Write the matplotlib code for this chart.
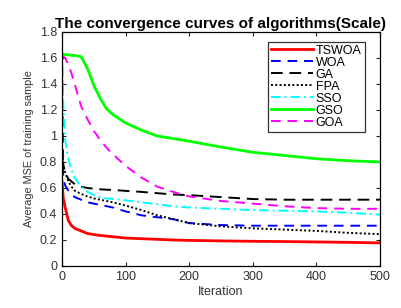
import matplotlib
matplotlib.use('Agg')
import matplotlib.pyplot as plt

plt.rcParams['font.family'] = ['Liberation Sans', 'DejaVu Sans']

# iteration sample points shared by all series
iters = [0, 2, 5, 10, 15, 20, 30, 40, 50, 60, 70, 80, 100, 125, 150, 175, 200,
         250, 300, 350, 400, 450, 500]

tswoa = [0.65, 0.52, 0.45, 0.35, 0.31, 0.29, 0.27, 0.25, 0.242, 0.235, 0.23,
         0.225, 0.215, 0.21, 0.205, 0.2, 0.197, 0.193, 0.19, 0.188, 0.185,
         0.182, 0.178]
woa = [1.66, 0.68, 0.62, 0.58, 0.55, 0.53, 0.51, 0.49, 0.48, 0.47, 0.46,
       0.45, 0.42, 0.39, 0.375, 0.36, 0.33, 0.315, 0.31, 0.31, 0.31, 0.31, 0.31]
ga = [0.83, 0.78, 0.72, 0.67, 0.65, 0.63, 0.61, 0.60, 0.595, 0.59, 0.587,
      0.585, 0.578, 0.57, 0.56, 0.55, 0.545, 0.53, 0.515, 0.51, 0.51, 0.51,
      0.51]
fpa = [0.86, 0.78, 0.72, 0.65, 0.61, 0.58, 0.555, 0.535, 0.52, 0.51, 0.50,
       0.49, 0.465, 0.43, 0.39, 0.36, 0.33, 0.305, 0.29, 0.28, 0.27, 0.255,
       0.245]
sso = [1.58, 1.25, 0.97, 0.82, 0.74, 0.68, 0.61, 0.57, 0.545, 0.53, 0.52,
       0.515, 0.505, 0.49, 0.475, 0.46, 0.45, 0.44, 0.43, 0.425, 0.42, 0.41,
       0.395]
gso = [1.63, 1.63, 1.625, 1.625, 1.62, 1.62, 1.61, 1.52, 1.39, 1.29, 1.21,
       1.165, 1.10, 1.045, 1.0, 0.98, 0.96, 0.915, 0.875, 0.85, 0.825, 0.81,
       0.80]
goa = [1.62, 1.61, 1.60, 1.55, 1.48, 1.40, 1.23, 1.13, 1.04, 0.97, 0.91,
       0.86, 0.77, 0.68, 0.61, 0.57, 0.535, 0.5, 0.48, 0.46, 0.445, 0.44, 0.44]


def main():
    fig = plt.figure(figsize=(4.02, 3.08), dpi=100)
    ax = fig.add_axes([62 / 402, 1 - 266 / 308, 318 / 402, 234 / 308])

    ax.plot(iters, tswoa, color='#ff0000', lw=2.0, label='TSWOA')
    ax.plot(iters, woa, color='#0000ff', lw=1.4, dashes=(5, 3.5), label='WOA')
    ax.plot(iters, ga, color='black', lw=1.4, dashes=(6, 3.5), label='GA')
    ax.plot(iters, fpa, color='black', lw=1.4, dashes=(1, 1.2), label='FPA')
    ax.plot(iters, sso, color='#00ffff', lw=1.4, dashes=(5, 2, 1, 2), label='SSO')
    ax.plot(iters, gso, color='#00ff00', lw=2.0, label='GSO')
    ax.plot(iters, goa, color='#ff00ff', lw=1.4, dashes=(5, 3.5), label='GOA')

    ax.set_xlim(0, 500)
    ax.set_ylim(0, 1.8)
    ax.set_xticks([0, 100, 200, 300, 400, 500])
    ax.set_yticks([0, 0.2, 0.4, 0.6, 0.8, 1, 1.2, 1.4, 1.6, 1.8])
    ax.set_yticklabels(['0', '0.2', '0.4', '0.6', '0.8', '1', '1.2', '1.4', '1.6', '1.8'])
    ax.tick_params(direction='in', top=True, right=True, labelsize=9,
                   length=3, width=0.8, colors='#222222', labelcolor='#333333')
    for s in ax.spines.values():
        s.set_linewidth(0.9)

    ax.set_title('The convergence curves of algorithms(Scale)', fontsize=11,
                 fontweight='bold', pad=3)
    ax.set_xlabel('Iteration', fontsize=9, labelpad=2, color='#333333')
    ax.set_ylabel('Average MSE of training sample', fontsize=7.8, labelpad=4,
                  color='#333333')

    leg = ax.legend(loc='upper right', bbox_to_anchor=(0.96, 0.97), fontsize=9,
                    handlelength=3.4, handletextpad=0.2, borderpad=0.25,
                    labelspacing=0.0, fancybox=False, framealpha=1,
                    borderaxespad=0.2)
    leg.get_frame().set_edgecolor('#333333')
    leg.get_frame().set_linewidth(0.9)

    fig.savefig('out.png', dpi=100)


if __name__ == '__main__':
    main()
